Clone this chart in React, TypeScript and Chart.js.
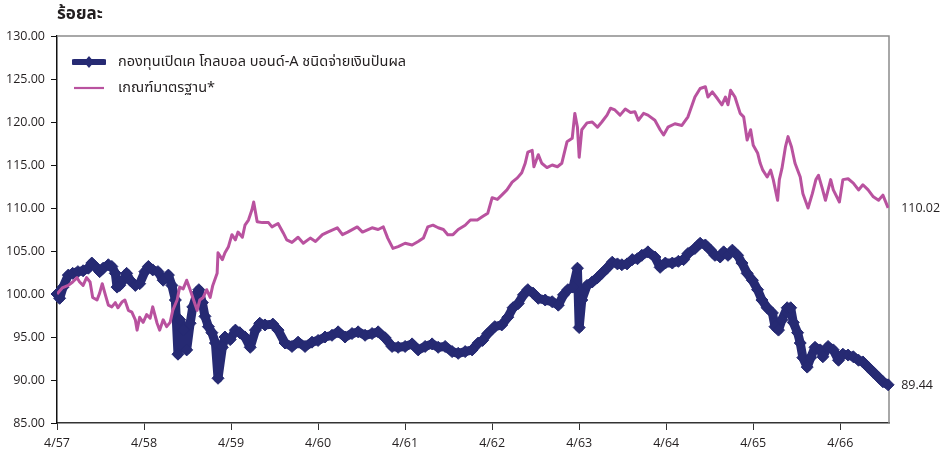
import React, { useEffect, useRef } from "react";
import { Chart, registerables } from "chart.js";

Chart.register(...registerables);

// ---- Data ----
const yearLabels = ["4/57", "4/58", "4/59", "4/60", "4/61", "4/62", "4/63", "4/64", "4/65", "4/66"];
const yTicks = [85, 90, 95, 100, 105, 110, 115, 120, 125, 130];
const xEnd = 9.56; // years since 4/57 at last NAV date

const fundName = "กองทุนเปิดเค โกลบอล บอนด์-A ชนิดจ่ายเงินปันผล";
const benchName = "เกณฑ์มาตรฐาน*";
const titleText = "ร้อยละ";

// time in years since 4/57
const fundT = [
  0.00, 0.03, 0.07, 0.13, 0.18, 0.24, 0.30, 0.36, 0.40, 0.46, 0.49, 0.53, 0.59, 0.63, 0.67, 0.69, 0.72, 0.76, 0.80, 0.84,
  0.90, 0.95, 1.01, 1.05, 1.10, 1.16, 1.22, 1.28, 1.32, 1.36, 1.39, 1.41, 1.45, 1.49, 1.53, 1.56, 1.61, 1.63, 1.67, 1.70,
  1.74, 1.78, 1.82, 1.85, 1.90, 1.93, 1.99, 2.05, 2.10, 2.16, 2.22, 2.28, 2.33, 2.39, 2.48, 2.54, 2.62, 2.70, 2.77, 2.85,
  2.93, 3.00, 3.08, 3.16, 3.23, 3.31, 3.39, 3.46, 3.54, 3.62, 3.69, 3.77, 3.85, 3.92, 4.00, 4.08, 4.15, 4.23, 4.31, 4.38,
  4.46, 4.54, 4.61, 4.69, 4.77, 4.84, 4.89, 4.95, 5.03, 5.11, 5.18, 5.24, 5.30, 5.36, 5.41, 5.47, 5.53, 5.61, 5.69, 5.76,
  5.82, 5.87, 5.93, 5.98, 6.00, 6.03, 6.09, 6.15, 6.21, 6.26, 6.32, 6.38, 6.44, 6.49, 6.55, 6.61, 6.67, 6.72, 6.79, 6.87,
  6.93, 6.99, 7.07, 7.14, 7.20, 7.25, 7.33, 7.39, 7.45, 7.51, 7.56, 7.62, 7.66, 7.71, 7.76, 7.82, 7.87, 7.93, 7.99, 8.05,
  8.10, 8.16, 8.22, 8.25, 8.29, 8.33, 8.39, 8.43, 8.46, 8.51, 8.54, 8.57, 8.62, 8.66, 8.71, 8.77, 8.80, 8.86, 8.92, 8.98,
  9.03, 9.09, 9.15, 9.21, 9.26, 9.32, 9.38, 9.44, 9.49, 9.55,
];
const fundV = [
  100.0, 99.5, 100.8, 102.2, 102.4, 102.6, 102.7, 103.0, 103.6, 103.0, 102.6, 103.0, 103.4, 103.2, 102.4, 100.8, 101.0, 101.6, 102.4, 101.6,
  101.0, 101.2, 102.6, 103.2, 102.8, 102.6, 101.6, 102.2, 101.0, 99.3, 93.0, 97.0, 95.8, 93.5, 96.6, 98.5, 100.1, 100.5, 99.0, 97.4,
  96.2, 95.5, 94.3, 90.2, 93.8, 95.0, 94.7, 95.8, 95.5, 95.0, 93.8, 95.8, 96.6, 96.4, 96.5, 95.8, 94.3, 93.9, 94.4, 93.9,
  94.4, 94.6, 95.0, 95.2, 95.6, 95.0, 95.4, 95.6, 95.2, 95.4, 95.6, 94.9, 93.9, 93.8, 93.9, 94.2, 93.5, 93.9, 94.2, 93.8,
  93.9, 93.3, 93.1, 93.3, 93.5, 94.3, 94.6, 95.4, 96.2, 96.4, 97.3, 98.4, 98.9, 99.9, 100.5, 100.1, 99.5, 99.3, 99.1, 98.7,
  99.9, 100.5, 100.8, 103.0, 96.1, 99.3, 101.0, 101.4, 101.9, 102.4, 103.0, 103.7, 103.5, 103.4, 103.5, 104.0, 104.1, 104.5, 104.9, 104.3,
  103.1, 103.6, 103.6, 103.8, 104.0, 104.7, 105.3, 105.9, 105.7, 105.1, 104.5, 104.3, 104.9, 104.5, 105.1, 104.5, 103.6, 102.4, 101.6, 100.5,
  99.3, 98.4, 97.8, 96.2, 95.8, 97.0, 98.4, 98.4, 96.7, 95.5, 94.3, 92.6, 91.5, 92.6, 93.8, 93.5, 92.7, 93.9, 93.5, 92.3,
  93.0, 92.9, 92.7, 92.3, 92.1, 91.5, 90.9, 90.3, 89.8, 89.44,
];

const benchT = [
  0.00, 0.06, 0.13, 0.18, 0.23, 0.26, 0.30, 0.34, 0.38, 0.41, 0.46, 0.49, 0.52, 0.55, 0.59, 0.63, 0.67, 0.70, 0.75, 0.78,
  0.82, 0.86, 0.90, 0.92, 0.95, 0.99, 1.03, 1.07, 1.10, 1.15, 1.18, 1.22, 1.26, 1.30, 1.33, 1.38, 1.41, 1.45, 1.49, 1.53,
  1.56, 1.61, 1.64, 1.68, 1.72, 1.76, 1.79, 1.84, 1.85, 1.90, 1.93, 1.97, 2.01, 2.05, 2.08, 2.13, 2.16, 2.20, 2.24, 2.26,
  2.30, 2.36, 2.43, 2.47, 2.54, 2.60, 2.64, 2.70, 2.77, 2.83, 2.91, 2.97, 3.05, 3.11, 3.22, 3.28, 3.34, 3.45, 3.51, 3.62,
  3.69, 3.75, 3.80, 3.86, 3.92, 4.00, 4.08, 4.15, 4.21, 4.26, 4.32, 4.38, 4.44, 4.49, 4.55, 4.61, 4.69, 4.75, 4.83, 4.89,
  4.95, 5.00, 5.06, 5.11, 5.17, 5.23, 5.29, 5.34, 5.38, 5.41, 5.46, 5.48, 5.53, 5.57, 5.63, 5.69, 5.75, 5.80, 5.86, 5.92,
  5.95, 5.98, 6.00, 6.03, 6.09, 6.15, 6.21, 6.26, 6.32, 6.36, 6.41, 6.47, 6.53, 6.59, 6.64, 6.68, 6.74, 6.79, 6.87, 6.93,
  6.97, 7.02, 7.10, 7.18, 7.25, 7.33, 7.39, 7.45, 7.48, 7.53, 7.59, 7.64, 7.68, 7.71, 7.74, 7.79, 7.85, 7.89, 7.93, 7.97,
  8.00, 8.05, 8.08, 8.11, 8.16, 8.20, 8.23, 8.28, 8.30, 8.33, 8.37, 8.40, 8.44, 8.48, 8.54, 8.57, 8.63, 8.68, 8.72, 8.75,
  8.79, 8.83, 8.89, 8.92, 8.99, 9.03, 9.09, 9.15, 9.21, 9.26, 9.32, 9.38, 9.44, 9.49, 9.55,
];
const benchV = [
  100.0, 100.7, 101.0, 101.4, 101.9, 101.4, 101.0, 101.9, 101.4, 99.6, 99.3, 100.1, 101.2, 100.1, 98.7, 98.5, 99.0, 98.4, 99.1, 99.3,
  98.1, 97.9, 97.0, 95.8, 97.3, 96.7, 97.6, 97.2, 98.5, 96.6, 95.8, 97.0, 96.2, 96.7, 98.1, 99.3, 100.8, 100.6, 101.6, 100.5,
  99.6, 98.1, 99.3, 99.6, 100.5, 99.6, 101.0, 102.4, 104.8, 104.0, 104.8, 105.5, 106.9, 106.3, 107.2, 106.6, 108.0, 108.6, 109.8, 110.7,
  108.4, 108.3, 108.3, 107.8, 108.2, 107.1, 106.3, 106.0, 106.6, 105.9, 106.5, 106.1, 106.9, 107.2, 107.7, 106.9, 107.2, 107.8, 107.2, 107.7,
  107.5, 107.8, 106.5, 105.3, 105.5, 105.9, 105.7, 106.1, 106.5, 107.8, 108.0, 107.7, 107.5, 106.9, 106.9, 107.5, 108.0, 108.6, 108.6, 109.0,
  109.4, 111.2, 111.0, 111.5, 112.1, 113.0, 113.5, 114.1, 115.2, 116.5, 116.7, 114.8, 116.2, 115.2, 114.7, 115.0, 114.8, 115.2, 117.7, 118.1,
  121.0, 119.4, 115.9, 119.1, 119.9, 120.0, 119.4, 120.0, 120.8, 121.6, 121.4, 120.8, 121.5, 121.1, 121.2, 120.2, 121.0, 120.8, 120.2, 119.1,
  118.5, 119.4, 119.8, 119.6, 120.6, 122.9, 123.9, 124.1, 122.9, 123.5, 122.7, 122.0, 122.9, 122.0, 123.7, 122.9, 121.0, 120.6, 117.9, 119.1,
  117.3, 116.4, 115.2, 114.4, 113.6, 114.4, 113.3, 110.9, 113.3, 114.6, 117.1, 118.3, 117.1, 115.2, 113.6, 111.7, 110.0, 111.7, 113.3, 113.8,
  112.4, 110.9, 113.3, 112.1, 110.7, 113.3, 113.4, 112.9, 112.1, 112.7, 112.1, 111.3, 110.9, 111.5, 110.02,
];

// ---- Styles ----
const NAVY = "#262a73";
const MAGENTA = "#b9529f";
const TEXT = "#231f20";
const TICK_FONT = '"Open Sans", "DejaVu Sans", sans-serif';
const THAI_FONT = '"Noto Sans Thai", "Noto Sans Thai UI", Loma, Garuda, Tahoma, "Noto Sans", sans-serif';

const endLabelsPlugin = {
  id: "endLabels",
  afterDatasetsDraw(chart: any) {
    const ctx = chart.ctx;
    ctx.save();
    ctx.font = `12.5px ${TICK_FONT}`;
    ctx.fillStyle = TEXT;
    ctx.textAlign = "left";
    ctx.textBaseline = "middle";
    chart.data.datasets.forEach((ds: any, i: number) => {
      const meta = chart.getDatasetMeta(i);
      const last = meta.data[meta.data.length - 1];
      const val = ds.data[ds.data.length - 1].y;
      ctx.fillText(val.toFixed(2), last.x + 13, last.y + 1);
    });
    ctx.restore();
  },
};

const frameRightTopPlugin = {
  id: "frameRightTop",
  beforeDatasetsDraw(chart: any) {
    const { ctx, chartArea } = chart;
    ctx.save();
    ctx.strokeStyle = "#8c8c8c";
    ctx.lineWidth = 1.5;
    ctx.beginPath();
    ctx.moveTo(chartArea.left, chartArea.top);
    ctx.lineTo(chartArea.right, chartArea.top);
    ctx.lineTo(chartArea.right, chartArea.bottom);
    ctx.stroke();
    ctx.restore();
  },
};

function LegendRow({ color, thick, label, top }: { color: string; thick: boolean; label: string; top: number }) {
  return (
    <div style={{ position: "absolute", left: 72, top: top - 10, height: 20, display: "flex", alignItems: "center" }}>
      <svg width={34} height={20} style={{ display: "block" }}>
        <line x1={2} y1={10} x2={32} y2={10} stroke={color} strokeWidth={thick ? 6 : 2.2} strokeLinecap={thick ? "round" : "butt"} />
        {thick ? <polygon points="17,4 22,10 17,16 12,10" fill={color} /> : null}
      </svg>
      <span style={{ marginLeft: 12, fontFamily: THAI_FONT, fontSize: 14.5, color: TEXT, whiteSpace: "nowrap", lineHeight: "20px" }}>{label}</span>
    </div>
  );
}

export default function App() {
  const ref = useRef<HTMLCanvasElement | null>(null);

  useEffect(() => {
    if (!ref.current) return;
    const chart = new Chart(ref.current, {
      type: "line",
      data: {
        datasets: [
          {
            label: benchName,
            data: benchT.map((t, i) => ({ x: t, y: benchV[i] })),
            borderColor: MAGENTA,
            backgroundColor: MAGENTA,
            borderWidth: 3,
            borderJoinStyle: "round",
            pointRadius: 0,
            tension: 0,
            order: 1,
          },
          {
            label: fundName,
            data: fundT.map((t, i) => ({ x: t, y: fundV[i] })),
            borderColor: NAVY,
            backgroundColor: NAVY,
            borderWidth: 9,
            borderJoinStyle: "round",
            pointStyle: "rectRot",
            pointRadius: 6,
            pointBorderWidth: 1,
            pointBorderColor: NAVY,
            pointBackgroundColor: NAVY,
            tension: 0,
            clip: false as any,
            order: 2,
          },
        ] as any,
      },
      options: {
        animation: false,
        responsive: false,
        maintainAspectRatio: false,
        layout: { padding: { top: 36, right: 61, left: 0, bottom: 0 } },
        plugins: { legend: { display: false }, tooltip: { enabled: false } },
        scales: {
          x: {
            type: "linear",
            min: 0,
            max: xEnd,
            afterBuildTicks: (scale: any) => {
              scale.ticks = yearLabels.map((_, i) => ({ value: i }));
            },
            afterFit: (scale: any) => {
              scale.height = 36;
            },
            ticks: {
              callback: (v: any) => yearLabels[Math.round(Number(v))] ?? "",
              color: TEXT,
              font: { family: TICK_FONT, size: 12.5 },
              maxRotation: 0,
              autoSkip: false,
              padding: 6,
            },
            grid: { drawOnChartArea: false, drawTicks: true, tickLength: 7, color: "#333", lineWidth: 1 },
            border: { display: true, color: "#333", width: 1.5 },
          },
          y: {
            type: "linear",
            min: 85,
            max: 130,
            afterBuildTicks: (scale: any) => {
              scale.ticks = yTicks.map((v) => ({ value: v }));
            },
            afterFit: (scale: any) => {
              scale.width = 57;
            },
            ticks: {
              callback: (v: any) => Number(v).toFixed(2),
              color: TEXT,
              font: { family: TICK_FONT, size: 12.5 },
              padding: 6,
            },
            grid: { drawOnChartArea: false, drawTicks: true, tickLength: 6, color: "#111", lineWidth: 1 },
            border: { display: true, color: "#111", width: 1.5 },
          },
        },
      },
      plugins: [frameRightTopPlugin, endLabelsPlugin],
    });
    return () => chart.destroy();
  }, []);

  return (
    <div style={{ position: "fixed", left: 0, top: 0, width: 950, height: 459, background: "#fff", overflow: "hidden" }}>
      <canvas ref={ref} width={950} height={459} style={{ position: "absolute", left: 0, top: 0, width: 950, height: 459 }} />
      <div style={{ position: "absolute", left: 57, top: 2, fontFamily: THAI_FONT, fontWeight: 700, fontSize: 17, color: TEXT, lineHeight: "24px" }}>
        {titleText}
      </div>
      <LegendRow color={NAVY} thick={true} label={fundName} top={62} />
      <LegendRow color={MAGENTA} thick={false} label={benchName} top={88} />
    </div>
  );
}
